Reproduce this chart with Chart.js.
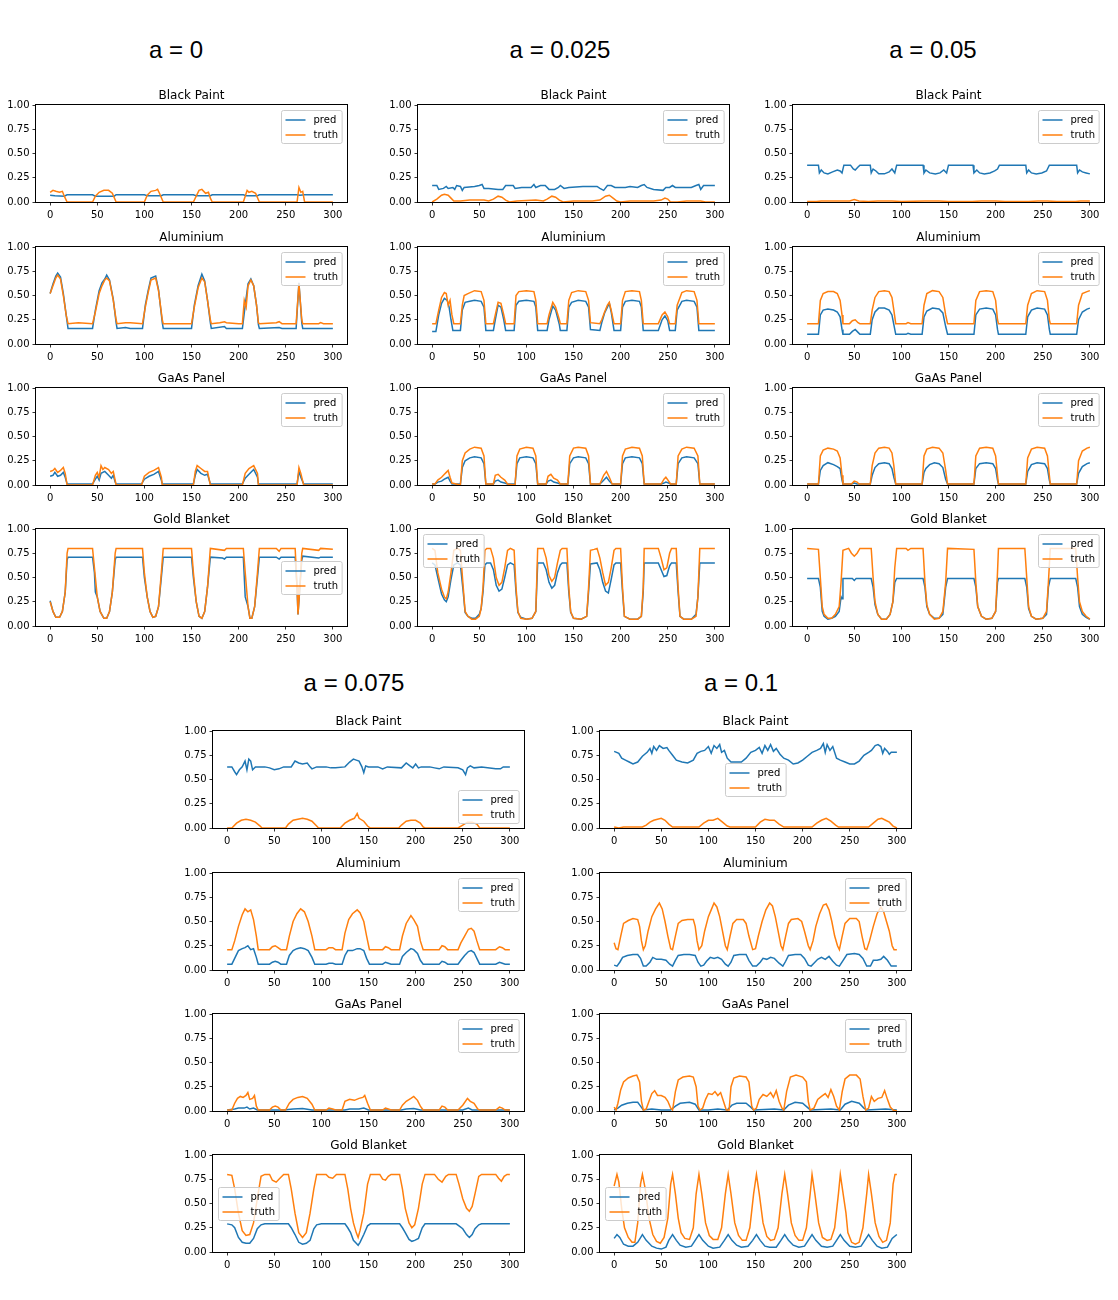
<!DOCTYPE html>
<html>
<head>
<meta charset="utf-8">
<script src="https://cdn.jsdelivr.net/npm/chart.js@4.4.1/dist/chart.umd.min.js"></script>
<style>
  body { margin: 0; background: #fff; }
  #wrap { position: relative; width: 1118px; height: 1300px; }
  canvas { position: absolute; }
  .group-title { position: absolute; font-family: "Liberation Sans", Arial, sans-serif; font-size: 24px; color: #000; transform: translate(-50%, -50%); white-space: nowrap; }
</style>
</head>
<body>
<div id="wrap"></div>
<script>
const groupTitles = ['a = 0', 'a = 0.025', 'a = 0.05', 'a = 0.075', 'a = 0.1'];
const panelTitles = ['Black Paint', 'Aluminium', 'GaAs Panel', 'Gold Blanket'];
const seriesNames = ['pred', 'truth'];
const xTicks = [0, 50, 100, 150, 200, 250, 300];
const yTicks = [0, 0.25, 0.5, 0.75, 1];

// a = 0
const a0BlackPred = [[0,.07],[5,.065],[15,.06],[18,.075],[45,.075],[48,.06],[68,.06],[70,.075],[100,.075],[103,.065],[118,.065],[120,.075],[152,.075],[155,.065],[170,.065],[172,.075],[205,.075],[208,.065],[220,.065],[222,.075],[262,.075],[265,.07],[270,.075],[300,.075]];
const a0BlackTruth = [[0,.10],[3,.12],[6,.11],[10,.10],[13,.11],[15,.06],[18,0],[45,0],[48,.06],[52,.10],[57,.12],[62,.12],[66,.09],[70,0],[100,0],[103,.07],[107,.11],[112,.12],[114,.13],[116,.09],[120,0],[152,0],[155,.06],[158,.12],[161,.13],[165,.09],[168,.10],[170,.04],[172,0],[205,0],[207,.06],[209,.12],[211,.10],[214,.11],[218,.09],[222,0],[262,0],[264,.15],[266,.10],[268,.11],[270,0],[300,0]];
const a0AluPred = [[0,.52],[3,.62],[6,.70],[8,.73],[11,.69],[14,.52],[17,.30],[19,.16],[45,.16],[48,.35],[52,.55],[55,.63],[58,.67],[60,.71],[63,.66],[67,.46],[70,.22],[71,.16],[80,.17],[85,.16],[98,.16],[101,.40],[104,.55],[107,.68],[112,.70],[115,.56],[119,.22],[120,.16],[150,.16],[153,.40],[157,.60],[161,.72],[164,.65],[167,.45],[170,.22],[171,.16],[185,.18],[187,.16],[204,.16],[207,.40],[210,.62],[213,.67],[216,.60],[219,.40],[221,.20],[222,.16],[243,.17],[246,.16],[261,.16],[264,.63],[267,.22],[268,.16],[300,.16]];
const a0AluTruth = [[0,.52],[3,.60],[6,.68],[8,.71],[11,.67],[14,.50],[17,.30],[19,.21],[30,.22],[45,.21],[48,.33],[52,.52],[55,.60],[58,.66],[60,.68],[63,.65],[67,.45],[70,.25],[71,.21],[80,.22],[85,.22],[98,.21],[101,.38],[104,.53],[107,.66],[112,.68],[115,.55],[119,.25],[120,.21],[150,.21],[153,.38],[157,.58],[161,.68],[164,.64],[167,.45],[170,.25],[171,.21],[180,.22],[185,.23],[187,.22],[200,.21],[204,.21],[206,.45],[208,.38],[210,.60],[213,.66],[216,.60],[219,.40],[221,.22],[222,.21],[240,.22],[243,.23],[246,.21],[261,.21],[264,.62],[267,.25],[268,.21],[285,.21],[287,.22],[290,.21],[300,.21]];
const a0GaasPred = [[0,.09],[3,.10],[5,.13],[8,.09],[11,.10],[14,.13],[16,.08],[18,.01],[45,.01],[48,.06],[50,.09],[52,.05],[54,.12],[58,.14],[62,.10],[65,.07],[67,.10],[69,.03],[70,.01],[97,.01],[100,.06],[105,.09],[110,.11],[115,.14],[118,.05],[119,.01],[152,.01],[154,.10],[156,.16],[160,.12],[164,.10],[167,.11],[170,.01],[204,.01],[207,.07],[211,.11],[216,.16],[220,.08],[221,.01],[262,.01],[264,.14],[266,.08],[269,.01],[300,.01]];
const a0GaasTruth = [[0,.14],[3,.15],[5,.17],[8,.13],[11,.15],[14,.18],[16,.12],[18,0],[45,0],[48,.10],[50,.13],[52,.08],[54,.20],[56,.16],[58,.18],[62,.16],[65,.12],[67,.14],[69,.05],[70,0],[97,0],[100,.09],[105,.13],[110,.15],[115,.18],[118,.08],[119,0],[152,0],[154,.14],[156,.20],[160,.17],[164,.14],[167,.14],[170,0],[204,0],[207,.12],[211,.17],[216,.20],[220,.12],[221,0],[262,0],[264,.18],[266,.12],[269,0],[300,0]];
const a0GoldPred = [[0,.26],[3,.15],[6,.09],[10,.09],[13,.15],[16,.35],[18,.68],[19,.71],[45,.71],[47,.55],[48,.35],[50,.30],[53,.15],[57,.08],[60,.08],[63,.15],[66,.35],[69,.68],[70,.71],[98,.71],[100,.50],[103,.30],[106,.15],[109,.09],[112,.10],[115,.20],[118,.50],[120,.71],[150,.71],[152,.50],[155,.25],[158,.10],[161,.08],[164,.15],[167,.40],[170,.71],[183,.70],[185,.69],[187,.71],[205,.71],[207,.30],[210,.20],[212,.08],[214,.08],[217,.20],[220,.50],[222,.71],[240,.71],[243,.69],[245,.71],[260,.71],[262,.40],[263,.12],[265,.40],[267,.68],[268,.72],[285,.70],[287,.71],[300,.71]];
const a0GoldTruth = [[0,.25],[3,.15],[6,.09],[10,.09],[13,.15],[16,.35],[18,.75],[19,.80],[45,.80],[47,.60],[50,.30],[53,.15],[57,.08],[60,.08],[63,.15],[66,.35],[69,.75],[70,.80],[98,.80],[100,.55],[103,.30],[106,.15],[109,.09],[112,.10],[115,.20],[118,.55],[120,.80],[150,.80],[152,.55],[155,.25],[158,.10],[161,.08],[164,.15],[167,.40],[170,.80],[185,.78],[187,.80],[205,.80],[207,.55],[210,.20],[212,.08],[214,.08],[217,.20],[220,.55],[222,.80],[240,.80],[243,.77],[245,.80],[260,.80],[262,.40],[263,.12],[265,.40],[267,.75],[268,.80],[285,.78],[287,.80],[300,.79]];

// a = 0.025
const a1BlackPred = [[0,.17],[5,.17],[7,.13],[12,.14],[15,.16],[17,.14],[22,.15],[24,.13],[26,.17],[30,.16],[32,.12],[34,.15],[45,.16],[50,.17],[53,.18],[55,.14],[60,.14],[70,.13],[75,.13],[78,.17],[86,.17],[88,.14],[95,.15],[105,.15],[108,.18],[110,.15],[115,.17],[120,.17],[124,.13],[130,.13],[134,.15],[136,.17],[140,.14],[145,.15],[160,.16],[175,.16],[178,.14],[182,.12],[186,.17],[190,.17],[194,.15],[205,.15],[210,.16],[218,.15],[222,.17],[225,.18],[228,.15],[235,.13],[245,.12],[248,.15],[252,.15],[255,.17],[258,.15],[275,.15],[280,.17],[283,.18],[285,.13],[288,.17],[300,.17]];
const a1BlackTruth = [[0,0],[5,.03],[10,.07],[13,.08],[17,.07],[20,.04],[23,.01],[30,.01],[40,.02],[55,.02],[60,.01],[65,.03],[70,.06],[74,.05],[78,.02],[82,0],[90,.01],[110,.02],[118,.01],[122,.03],[127,.06],[131,.05],[135,.02],[139,0],[150,.01],[170,.01],[178,.02],[184,.06],[188,.07],[192,.04],[196,.01],[200,0],[210,.01],[235,.01],[243,.02],[247,.04],[250,.03],[253,0],[260,0],[270,.01],[285,.01],[290,0],[300,0]];
const a1AluPred = [[0,.13],[4,.13],[7,.30],[10,.42],[13,.47],[16,.45],[18,.38],[20,.25],[22,.14],[30,.14],[32,.35],[35,.43],[40,.44],[45,.45],[52,.44],[55,.38],[57,.14],[65,.14],[67,.25],[70,.40],[73,.38],[76,.25],[78,.14],[87,.14],[89,.40],[92,.44],[100,.45],[108,.44],[110,.38],[112,.14],[122,.14],[124,.25],[128,.39],[131,.35],[135,.20],[136,.14],[143,.14],[145,.38],[148,.43],[155,.45],[163,.44],[166,.38],[168,.15],[178,.14],[180,.22],[183,.32],[186,.38],[188,.42],[190,.33],[193,.14],[200,.14],[202,.38],[205,.44],[212,.45],[220,.44],[222,.38],[224,.14],[240,.14],[244,.25],[247,.29],[250,.24],[252,.14],[258,.14],[260,.35],[265,.44],[270,.45],[278,.44],[281,.38],[283,.14],[300,.14]];
const a1AluTruth = [[0,.21],[4,.21],[7,.35],[10,.48],[13,.53],[15,.52],[17,.40],[19,.45],[21,.30],[23,.21],[30,.21],[32,.40],[34,.50],[38,.52],[45,.55],[52,.54],[55,.45],[57,.21],[65,.21],[67,.30],[70,.43],[73,.42],[76,.30],[78,.21],[87,.21],[89,.50],[92,.54],[100,.55],[108,.54],[110,.45],[112,.21],[122,.21],[124,.30],[128,.43],[131,.38],[135,.25],[136,.21],[143,.21],[145,.45],[148,.53],[155,.55],[163,.54],[166,.45],[168,.22],[178,.21],[180,.25],[183,.33],[186,.40],[188,.43],[190,.35],[193,.21],[200,.21],[202,.45],[205,.54],[212,.55],[220,.54],[222,.45],[224,.21],[240,.21],[244,.30],[247,.33],[250,.28],[252,.21],[258,.21],[260,.40],[265,.53],[270,.55],[278,.54],[281,.45],[283,.21],[300,.21]];
const a1GaasPred = [[0,.01],[3,.01],[6,.03],[10,.04],[13,.06],[15,.07],[17,.08],[19,.04],[21,.01],[30,.01],[32,.18],[35,.25],[40,.28],[45,.29],[52,.28],[55,.22],[57,.01],[65,.01],[67,.04],[70,.05],[73,.03],[77,.02],[80,.01],[88,.01],[90,.22],[93,.28],[100,.29],[107,.28],[110,.22],[112,.01],[121,.01],[123,.04],[126,.05],[129,.03],[133,.02],[136,.01],[144,.01],[146,.22],[150,.28],[155,.29],[163,.28],[166,.22],[168,.01],[178,.01],[182,.05],[185,.08],[188,.04],[191,.01],[200,.01],[202,.22],[205,.28],[212,.29],[220,.28],[223,.22],[225,.01],[243,.01],[246,.02],[248,.03],[251,.02],[253,.01],[259,.01],[261,.22],[265,.28],[270,.29],[278,.28],[282,.22],[284,.01],[300,.01]];
const a1GaasTruth = [[0,.01],[3,.01],[6,.05],[10,.08],[13,.11],[15,.13],[17,.15],[19,.08],[21,.02],[30,0],[32,.25],[35,.33],[40,.37],[45,.39],[52,.38],[55,.30],[57,.01],[65,.01],[67,.10],[70,.11],[73,.08],[77,.05],[80,.01],[88,0],[90,.30],[93,.37],[100,.39],[107,.38],[110,.30],[112,.01],[121,.01],[123,.09],[126,.11],[129,.07],[133,.05],[136,.01],[144,.01],[146,.30],[150,.38],[155,.39],[163,.38],[166,.30],[168,.01],[178,.01],[182,.10],[185,.14],[188,.08],[191,.01],[200,.01],[202,.30],[205,.37],[212,.39],[220,.38],[223,.30],[225,.01],[243,.01],[246,.06],[248,.08],[251,.04],[253,.01],[259,.01],[261,.30],[265,.37],[270,.39],[278,.38],[282,.30],[284,.01],[300,.01]];
const a1GoldPred = [[0,.65],[3,.63],[6,.50],[10,.33],[13,.27],[15,.25],[17,.30],[20,.48],[23,.63],[27,.65],[30,.63],[33,.35],[35,.14],[38,.10],[42,.08],[46,.08],[50,.12],[52,.18],[54,.35],[56,.63],[58,.65],[62,.65],[65,.58],[68,.42],[71,.36],[74,.38],[77,.50],[80,.63],[83,.65],[87,.63],[89,.35],[91,.14],[94,.09],[100,.07],[106,.08],[110,.15],[112,.65],[118,.65],[121,.58],[124,.45],[127,.39],[130,.42],[133,.55],[136,.63],[138,.65],[143,.65],[145,.35],[147,.14],[150,.08],[158,.07],[164,.10],[166,.35],[168,.64],[175,.65],[178,.58],[181,.45],[184,.36],[187,.34],[190,.48],[193,.63],[195,.65],[200,.65],[202,.35],[204,.10],[210,.07],[218,.07],[222,.10],[224,.35],[225,.65],[240,.65],[243,.58],[246,.51],[249,.52],[252,.62],[254,.65],[259,.65],[261,.35],[263,.10],[267,.07],[275,.07],[280,.12],[282,.30],[284,.65],[300,.65]];
const a1GoldTruth = [[0,.80],[3,.78],[6,.55],[10,.38],[13,.30],[15,.28],[17,.35],[20,.55],[23,.78],[27,.80],[30,.78],[33,.40],[35,.15],[38,.10],[42,.07],[46,.07],[50,.10],[52,.18],[54,.40],[56,.78],[58,.80],[62,.80],[65,.70],[68,.50],[71,.42],[74,.45],[77,.60],[80,.78],[83,.80],[87,.78],[89,.40],[91,.15],[94,.08],[100,.07],[106,.08],[110,.15],[112,.80],[118,.80],[121,.70],[124,.52],[127,.46],[130,.50],[133,.65],[136,.78],[138,.80],[143,.80],[145,.40],[147,.15],[150,.08],[158,.07],[164,.10],[166,.40],[168,.78],[172,.79],[175,.80],[178,.70],[181,.55],[184,.42],[187,.45],[190,.60],[193,.78],[195,.80],[200,.80],[202,.40],[204,.10],[210,.07],[218,.07],[222,.10],[224,.40],[225,.80],[240,.80],[243,.70],[246,.58],[249,.60],[252,.75],[254,.80],[259,.80],[261,.40],[263,.10],[267,.07],[275,.07],[280,.10],[282,.30],[284,.80],[300,.80]];

// a = 0.05
const a2BlackPred = [[0,.38],[12,.38],[13,.30],[15,.33],[18,.30],[22,.29],[27,.31],[32,.33],[35,.32],[37,.30],[39,.38],[46,.38],[49,.34],[51,.33],[54,.36],[56,.38],[67,.38],[68,.30],[70,.34],[73,.32],[76,.29],[82,.29],[87,.31],[90,.34],[93,.30],[95,.38],[123,.38],[124,.30],[126,.33],[130,.30],[136,.29],[141,.30],[145,.33],[148,.30],[150,.38],[176,.38],[177,.30],[180,.33],[183,.30],[188,.29],[194,.30],[199,.32],[202,.34],[204,.38],[232,.38],[233,.30],[235,.33],[238,.30],[243,.29],[249,.30],[254,.32],[257,.38],[286,.38],[287,.30],[289,.33],[292,.31],[296,.30],[300,.29]];
const a2BlackTruth = [[0,.005],[10,.005],[15,.01],[30,.01],[45,.01],[50,.025],[55,.01],[65,.005],[75,.01],[90,.01],[100,.005],[125,.01],[140,.01],[150,.005],[175,.005],[185,.01],[200,.01],[210,.005],[235,.005],[245,.01],[255,.01],[265,.005],[285,.005],[290,.01],[300,.01]];
const a2AluPred = [[0,.10],[12,.10],[14,.30],[17,.35],[22,.36],[28,.35],[32,.33],[35,.28],[37,.15],[38,.10],[45,.10],[48,.13],[51,.15],[54,.12],[56,.10],[67,.10],[69,.25],[72,.33],[76,.37],[82,.37],[87,.35],[90,.30],[92,.20],[94,.10],[105,.10],[107,.11],[110,.10],[122,.10],[124,.28],[127,.34],[133,.37],[140,.36],[144,.32],[147,.18],[149,.10],[177,.10],[179,.30],[183,.36],[190,.37],[197,.36],[200,.30],[202,.15],[203,.10],[232,.10],[234,.28],[238,.35],[244,.37],[252,.36],[255,.30],[257,.15],[258,.10],[286,.10],[288,.25],[292,.33],[297,.36],[300,.37]];
const a2AluTruth = [[0,.21],[12,.21],[14,.45],[17,.52],[22,.54],[28,.54],[32,.52],[35,.45],[37,.30],[38,.21],[45,.21],[48,.24],[51,.25],[54,.22],[56,.21],[67,.21],[69,.35],[72,.48],[76,.54],[82,.55],[87,.54],[90,.48],[92,.35],[94,.21],[105,.21],[107,.22],[110,.21],[122,.21],[124,.40],[127,.52],[133,.55],[140,.54],[144,.48],[147,.30],[149,.21],[177,.21],[179,.45],[183,.54],[190,.55],[197,.54],[200,.45],[202,.25],[203,.21],[232,.21],[234,.40],[238,.52],[244,.55],[252,.54],[255,.45],[257,.25],[258,.21],[286,.21],[288,.40],[292,.52],[297,.54],[300,.55]];
const a2GaasPred = [[0,.01],[12,.01],[14,.15],[17,.20],[22,.23],[28,.21],[32,.19],[35,.17],[37,.05],[38,.01],[47,.01],[50,.02],[53,.01],[67,.01],[69,.10],[72,.18],[76,.22],[82,.23],[87,.22],[90,.17],[92,.08],[94,.01],[122,.01],[124,.13],[126,.17],[130,.21],[135,.23],[140,.22],[144,.18],[147,.06],[149,.01],[177,.01],[179,.17],[183,.22],[190,.23],[197,.22],[200,.17],[202,.05],[203,.01],[232,.01],[234,.14],[238,.21],[244,.23],[252,.22],[255,.17],[257,.05],[258,.01],[286,.01],[288,.12],[292,.19],[297,.22],[300,.23]];
const a2GaasTruth = [[0,.01],[12,.01],[14,.30],[17,.36],[22,.38],[28,.37],[32,.35],[35,.28],[37,.10],[38,.01],[47,.01],[50,.04],[53,.03],[55,.01],[67,.01],[69,.20],[72,.33],[76,.38],[82,.39],[87,.38],[90,.33],[92,.20],[94,.01],[122,.01],[124,.30],[127,.37],[133,.39],[140,.38],[144,.33],[147,.15],[149,.01],[177,.01],[179,.30],[183,.38],[190,.39],[197,.38],[200,.30],[202,.10],[203,.01],[232,.01],[234,.28],[238,.37],[244,.39],[252,.38],[255,.30],[257,.10],[258,.01],[286,.01],[288,.25],[292,.35],[297,.38],[300,.39]];
const a2GoldPred = [[0,.49],[12,.49],[14,.40],[16,.15],[18,.10],[22,.07],[26,.08],[30,.10],[34,.15],[36,.30],[37,.28],[38,.49],[48,.49],[50,.47],[52,.49],[68,.49],[70,.40],[72,.22],[75,.12],[79,.07],[84,.07],[88,.12],[91,.25],[93,.45],[95,.49],[123,.49],[125,.40],[127,.20],[130,.12],[135,.08],[140,.08],[144,.12],[147,.40],[149,.49],[177,.49],[179,.40],[181,.20],[185,.10],[190,.07],[196,.08],[200,.15],[202,.45],[203,.49],[231,.49],[233,.40],[235,.18],[238,.10],[243,.07],[250,.08],[254,.12],[256,.40],[258,.49],[285,.49],[287,.40],[289,.20],[292,.12],[296,.09],[300,.07]];
const a2GoldTruth = [[0,.80],[12,.79],[14,.50],[16,.20],[18,.12],[22,.08],[26,.08],[30,.12],[34,.20],[36,.45],[38,.78],[44,.80],[47,.75],[50,.72],[53,.75],[56,.80],[68,.80],[70,.50],[72,.25],[75,.12],[79,.07],[84,.07],[88,.12],[91,.25],[93,.60],[95,.80],[105,.80],[107,.78],[110,.80],[123,.80],[125,.45],[127,.22],[130,.12],[135,.07],[140,.08],[144,.15],[147,.45],[149,.80],[177,.79],[179,.45],[181,.20],[185,.10],[190,.07],[196,.08],[200,.15],[202,.55],[203,.80],[231,.80],[233,.50],[235,.20],[238,.10],[243,.07],[250,.08],[254,.15],[256,.45],[258,.80],[285,.80],[287,.50],[289,.25],[292,.15],[296,.10],[300,.07]];

// a = 0.075
const a3BlackPred = [[0,.63],[5,.63],[8,.58],[10,.55],[13,.60],[16,.63],[19,.69],[21,.60],[23,.71],[25,.69],[27,.60],[30,.63],[40,.63],[45,.62],[50,.60],[55,.61],[60,.63],[68,.63],[72,.69],[76,.67],[80,.66],[85,.67],[88,.63],[90,.61],[95,.63],[105,.63],[110,.62],[115,.62],[125,.63],[130,.68],[134,.71],[137,.70],[140,.69],[143,.63],[145,.57],[147,.64],[150,.63],[160,.63],[165,.61],[170,.63],[185,.62],[190,.67],[194,.64],[197,.62],[200,.66],[203,.62],[206,.63],[215,.63],[220,.62],[225,.61],[230,.63],[245,.62],[250,.60],[253,.55],[255,.62],[258,.64],[262,.62],[270,.63],[285,.61],[290,.61],[293,.63],[300,.63]];
const a3BlackTruth = [[0,0],[5,0],[10,.05],[15,.08],[20,.09],[25,.08],[30,.06],[35,.02],[37,0],[62,0],[65,.04],[70,.08],[75,.09],[80,.10],[85,.09],[90,.07],[95,.02],[97,0],[120,0],[125,.05],[130,.08],[135,.10],[138,.15],[140,.10],[145,.07],[149,.02],[152,0],[182,0],[185,.03],[190,.07],[195,.08],[200,.08],[205,.05],[208,.01],[210,0],[245,0],[250,.03],[255,.06],[260,.06],[265,.04],[268,0],[300,0]];
const a3AluPred = [[0,.06],[5,.06],[8,.12],[12,.20],[16,.22],[19,.23],[22,.25],[25,.21],[28,.22],[31,.13],[33,.06],[45,.06],[48,.08],[51,.09],[54,.08],[57,.06],[63,.06],[66,.15],[70,.20],[74,.22],[78,.23],[82,.22],[86,.20],[90,.13],[93,.06],[105,.06],[108,.07],[112,.07],[115,.06],[122,.06],[125,.15],[128,.20],[133,.20],[138,.22],[141,.22],[145,.20],[148,.12],[151,.06],[165,.06],[168,.08],[171,.07],[174,.06],[183,.06],[186,.14],[190,.18],[195,.22],[198,.21],[202,.17],[205,.10],[208,.06],[225,.06],[228,.09],[231,.08],[234,.06],[245,.06],[248,.10],[252,.15],[256,.19],[259,.20],[262,.18],[265,.12],[268,.06],[285,.06],[289,.08],[292,.07],[295,.06],[300,.06]];
const a3AluTruth = [[0,.21],[5,.21],[8,.30],[12,.45],[16,.57],[19,.63],[22,.60],[25,.62],[28,.52],[31,.35],[33,.21],[45,.21],[48,.24],[51,.25],[54,.23],[57,.21],[63,.21],[66,.35],[70,.50],[74,.58],[78,.63],[82,.60],[86,.50],[90,.35],[93,.21],[105,.21],[108,.23],[112,.23],[115,.21],[122,.21],[125,.38],[129,.52],[133,.58],[138,.62],[141,.59],[145,.50],[148,.35],[151,.21],[165,.21],[168,.24],[171,.23],[174,.21],[183,.21],[186,.35],[190,.48],[195,.56],[198,.52],[202,.45],[205,.30],[208,.21],[225,.21],[228,.25],[231,.24],[234,.21],[245,.21],[248,.28],[252,.35],[256,.42],[259,.43],[262,.40],[265,.30],[268,.21],[285,.21],[289,.24],[292,.23],[295,.21],[300,.21]];
const a3GaasPred = [[0,.01],[8,.02],[12,.03],[18,.03],[21,.04],[24,.02],[28,.03],[32,.01],[60,.01],[70,.02],[80,.025],[90,.01],[125,.01],[130,.02],[140,.02],[145,.03],[150,.01],[185,.01],[190,.02],[198,.025],[205,.01],[250,.01],[256,.03],[260,.01],[300,.01]];
const a3GaasTruth = [[0,.01],[5,.01],[8,.08],[11,.13],[14,.15],[17,.14],[20,.16],[22,.19],[24,.12],[27,.13],[29,.16],[31,.05],[33,.01],[45,.01],[48,.04],[51,.05],[54,.04],[57,.01],[62,.01],[66,.08],[70,.12],[75,.14],[80,.15],[85,.13],[90,.07],[93,.01],[105,.01],[108,.03],[112,.02],[115,.01],[122,.01],[125,.10],[130,.12],[135,.11],[140,.13],[144,.14],[146,.16],[149,.08],[152,.01],[165,.01],[168,.03],[171,.02],[174,.01],[183,.01],[186,.06],[190,.10],[195,.13],[198,.15],[202,.11],[205,.05],[208,.01],[225,.01],[228,.05],[231,.04],[234,.01],[245,.01],[250,.06],[255,.13],[258,.10],[262,.08],[266,.02],[268,.01],[285,.01],[289,.04],[292,.03],[295,.01],[300,.01]];
const a3GoldPred = [[0,.29],[5,.28],[8,.25],[12,.15],[16,.10],[20,.09],[24,.09],[28,.14],[32,.24],[36,.28],[40,.29],[65,.29],[68,.25],[72,.18],[76,.10],[80,.08],[84,.09],[88,.12],[92,.24],[95,.28],[100,.29],[125,.29],[128,.25],[131,.20],[134,.12],[137,.09],[139,.07],[141,.10],[145,.18],[149,.27],[152,.29],[183,.29],[186,.25],[189,.20],[193,.13],[196,.11],[199,.12],[203,.14],[207,.25],[210,.29],[243,.29],[246,.27],[250,.24],[254,.18],[257,.15],[260,.18],[263,.24],[267,.28],[270,.29],[300,.29]];
const a3GoldTruth = [[0,.80],[5,.79],[8,.65],[12,.40],[16,.22],[20,.17],[24,.18],[28,.30],[32,.55],[36,.78],[40,.80],[45,.80],[48,.74],[52,.72],[56,.76],[60,.80],[65,.80],[68,.65],[72,.40],[76,.20],[80,.15],[84,.20],[88,.40],[92,.65],[95,.80],[105,.80],[108,.77],[112,.76],[116,.80],[125,.80],[128,.65],[131,.45],[134,.30],[137,.20],[139,.15],[141,.22],[145,.40],[149,.70],[152,.80],[162,.80],[165,.75],[168,.74],[171,.78],[174,.80],[183,.80],[186,.65],[189,.45],[193,.30],[196,.25],[199,.28],[203,.45],[207,.70],[210,.80],[220,.80],[224,.75],[228,.72],[232,.78],[235,.80],[243,.80],[246,.70],[250,.55],[254,.45],[257,.42],[260,.47],[263,.60],[267,.78],[270,.80],[285,.80],[288,.76],[291,.73],[294,.78],[297,.80],[300,.80]];

// a = 0.1
const a4BlackPred = [[0,.79],[5,.77],[8,.72],[12,.70],[16,.68],[20,.66],[25,.68],[30,.74],[35,.78],[38,.82],[40,.77],[42,.84],[45,.80],[48,.85],[52,.82],[56,.83],[58,.80],[62,.75],[66,.70],[72,.68],[78,.67],[84,.70],[88,.77],[92,.79],[96,.80],[100,.84],[103,.77],[106,.85],[109,.82],[112,.86],[114,.78],[117,.80],[120,.72],[124,.68],[135,.68],[140,.72],[145,.78],[150,.80],[154,.83],[157,.77],[160,.85],[163,.80],[166,.86],[169,.79],[172,.82],[176,.76],[180,.72],[185,.70],[190,.66],[195,.67],[200,.70],[205,.74],[210,.78],[215,.80],[219,.82],[222,.87],[224,.78],[226,.86],[229,.80],[232,.84],[236,.72],[240,.70],[245,.68],[250,.66],[255,.66],[260,.69],[265,.75],[270,.78],[273,.80],[277,.85],[280,.86],[283,.84],[285,.77],[287,.82],[290,.79],[292,.76],[294,.78],[300,.78]];
const a4BlackTruth = [[0,.01],[5,0],[10,.01],[30,.01],[34,.03],[38,.06],[42,.08],[46,.09],[50,.10],[54,.08],[58,.04],[62,.01],[90,.01],[95,.05],[100,.08],[105,.08],[110,.10],[115,.06],[120,.02],[123,.01],[150,.01],[155,.06],[160,.09],[165,.08],[170,.08],[175,.04],[180,.01],[210,.01],[215,.05],[220,.08],[225,.10],[230,.07],[235,.03],[238,.01],[270,.01],[275,.05],[280,.09],[284,.10],[288,.08],[292,.06],[296,.02],[300,0]];
const a4AluPred = [[0,.05],[3,.04],[6,.08],[9,.13],[14,.15],[20,.16],[25,.16],[28,.12],[31,.04],[34,.04],[38,.08],[41,.13],[45,.11],[50,.11],[55,.10],[59,.06],[62,.04],[65,.10],[68,.15],[74,.16],[80,.16],[86,.15],[89,.08],[92,.04],[95,.05],[98,.09],[102,.13],[106,.12],[110,.13],[114,.11],[118,.06],[121,.04],[124,.08],[127,.15],[133,.16],[140,.16],[143,.10],[147,.04],[151,.04],[155,.08],[158,.12],[162,.11],[166,.13],[170,.12],[175,.07],[179,.04],[182,.09],[185,.15],[192,.16],[198,.16],[202,.12],[206,.05],[209,.04],[212,.07],[216,.11],[220,.13],[224,.11],[228,.14],[232,.09],[236,.05],[239,.04],[243,.10],[247,.16],[255,.17],[260,.16],[264,.12],[268,.04],[272,.04],[275,.10],[279,.10],[283,.11],[286,.14],[290,.10],[294,.04],[300,.04]];
const a4AluTruth = [[0,.28],[2,.22],[4,.21],[7,.35],[10,.48],[15,.51],[20,.53],[25,.52],[27,.45],[29,.30],[31,.21],[33,.25],[36,.40],[40,.55],[44,.63],[48,.69],[51,.63],[54,.50],[57,.35],[60,.22],[62,.21],[65,.35],[68,.48],[72,.51],[78,.52],[84,.52],[86,.45],[88,.30],[90,.21],[93,.25],[96,.40],[100,.55],[103,.62],[106,.69],[109,.65],[112,.55],[115,.40],[118,.25],[120,.21],[123,.35],[126,.48],[130,.52],[137,.52],[140,.48],[143,.35],[147,.21],[150,.22],[153,.35],[157,.50],[161,.62],[165,.69],[168,.66],[171,.55],[174,.40],[177,.25],[179,.21],[182,.35],[185,.48],[188,.52],[195,.53],[199,.50],[202,.40],[206,.25],[208,.21],[211,.30],[214,.45],[218,.58],[222,.67],[225,.68],[228,.62],[231,.50],[234,.35],[237,.25],[239,.21],[242,.35],[245,.48],[250,.53],[257,.53],[260,.50],[263,.35],[266,.22],[268,.21],[271,.30],[275,.45],[279,.58],[283,.65],[286,.60],[289,.50],[292,.40],[295,.25],[297,.21],[300,.21]];
const a4GaasPred = [[0,.01],[4,.03],[8,.06],[14,.08],[20,.09],[25,.09],[28,.05],[31,.01],[40,.02],[50,.01],[60,.01],[65,.05],[70,.08],[80,.09],[86,.07],[90,.01],[100,.01],[110,.02],[120,.01],[125,.06],[130,.08],[140,.08],[145,.04],[148,.01],[170,.02],[180,.01],[185,.06],[192,.09],[200,.08],[206,.03],[208,.01],[230,.02],[240,.01],[245,.07],[252,.10],[260,.08],[265,.03],[268,.01],[288,.02],[300,.01]];
const a4GaasTruth = [[0,.04],[2,.01],[4,.08],[7,.22],[10,.30],[15,.34],[20,.36],[24,.37],[27,.30],[29,.10],[31,.01],[34,.02],[37,.10],[40,.18],[43,.21],[46,.16],[50,.16],[54,.14],[57,.10],[60,.03],[62,.01],[65,.20],[68,.32],[73,.35],[80,.36],[84,.35],[87,.25],[89,.05],[91,.01],[94,.03],[97,.12],[100,.18],[104,.17],[107,.20],[110,.16],[113,.19],[116,.10],[119,.01],[122,.01],[124,.25],[127,.34],[133,.36],[140,.35],[143,.30],[146,.05],[148,.01],[151,.03],[154,.12],[158,.17],[162,.15],[166,.19],[169,.14],[172,.21],[175,.10],[178,.03],[180,.01],[183,.20],[187,.35],[193,.37],[200,.35],[204,.30],[206,.10],[208,.01],[212,.03],[216,.12],[220,.15],[224,.18],[227,.14],[230,.22],[233,.15],[236,.05],[239,.01],[242,.20],[245,.33],[250,.37],[257,.37],[261,.33],[264,.15],[267,.01],[270,.03],[273,.15],[276,.10],[280,.13],[284,.14],[287,.21],[290,.12],[293,.04],[296,.01],[300,0]];
const a4GoldPred = [[0,.14],[3,.18],[6,.15],[10,.08],[15,.06],[20,.06],[25,.10],[30,.18],[34,.12],[40,.06],[45,.04],[50,.03],[55,.05],[58,.12],[62,.18],[66,.12],[70,.07],[76,.05],[82,.06],[86,.12],[90,.18],[94,.12],[100,.06],[105,.04],[112,.05],[117,.12],[121,.18],[125,.12],[130,.07],[135,.05],[142,.06],[147,.12],[151,.18],[155,.12],[160,.06],[165,.05],[172,.05],[177,.12],[181,.18],[185,.12],[190,.07],[196,.05],[202,.06],[206,.12],[210,.18],[214,.12],[220,.06],[226,.05],[232,.06],[236,.12],[240,.18],[244,.12],[250,.06],[256,.05],[262,.06],[266,.12],[270,.18],[274,.12],[279,.06],[284,.04],[290,.05],[295,.14],[300,.18]];
const a4GoldTruth = [[0,.68],[3,.80],[5,.72],[8,.45],[11,.25],[15,.15],[19,.10],[22,.10],[25,.30],[28,.70],[30,.80],[33,.65],[37,.35],[41,.18],[45,.11],[49,.09],[53,.15],[57,.35],[60,.70],[62,.80],[65,.60],[68,.35],[71,.20],[75,.14],[80,.13],[84,.25],[87,.60],[90,.80],[93,.60],[97,.30],[101,.17],[105,.13],[110,.13],[114,.25],[118,.60],[121,.80],[124,.60],[128,.30],[132,.17],[136,.12],[140,.12],[144,.25],[148,.60],[151,.80],[154,.60],[158,.30],[162,.16],[166,.12],[170,.13],[174,.25],[178,.60],[181,.80],[184,.60],[188,.30],[192,.17],[196,.12],[200,.12],[204,.25],[208,.60],[210,.80],[213,.60],[217,.30],[221,.15],[226,.12],[230,.13],[234,.25],[238,.60],[240,.80],[243,.60],[246,.40],[248,.20],[252,.10],[256,.08],[260,.10],[264,.25],[268,.60],[270,.80],[273,.60],[277,.30],[281,.16],[285,.10],[289,.12],[293,.30],[296,.70],[298,.80],[300,.80]];

const groupSeries = [
  [[a0BlackPred, a0BlackTruth], [a0AluPred, a0AluTruth], [a0GaasPred, a0GaasTruth], [a0GoldPred, a0GoldTruth]],
  [[a1BlackPred, a1BlackTruth], [a1AluPred, a1AluTruth], [a1GaasPred, a1GaasTruth], [a1GoldPred, a1GoldTruth]],
  [[a2BlackPred, a2BlackTruth], [a2AluPred, a2AluTruth], [a2GaasPred, a2GaasTruth], [a2GoldPred, a2GoldTruth]],
  [[a3BlackPred, a3BlackTruth], [a3AluPred, a3AluTruth], [a3GaasPred, a3GaasTruth], [a3GoldPred, a3GoldTruth]],
  [[a4BlackPred, a4BlackTruth], [a4AluPred, a4AluTruth], [a4GaasPred, a4GaasTruth], [a4GoldPred, a4GoldTruth]]
];

// layout (pixels) and legend placement
const topRows = [105, 247, 388, 529];
const bottomRows = [731, 873, 1014, 1155];
const groupLayout = [
  { tx: 176, ty: 50, left: 36, rows: topRows, legends: ['ur', 'ur', 'ur', 'cr'] },
  { tx: 560, ty: 50, left: 418, rows: topRows, legends: ['ur', 'ur', 'ur', 'ul'] },
  { tx: 933, ty: 50, left: 793, rows: topRows, legends: ['ur', 'ur', 'ur', 'ur'] },
  { tx: 354, ty: 683, left: 213, rows: bottomRows, legends: ['lr', 'ur', 'ur', 'cl'] },
  { tx: 741, ty: 683, left: 600, rows: bottomRows, legends: ['c', 'ur', 'ur', 'cl'] }
];
const PW = 311, PH = 97, PAD_L = 36, PAD_T = 22, PAD_R = 24, PAD_B = 26;
const colors = ['#1f77b4', '#ff7f0e'];
const FONT = '"DejaVu Sans", sans-serif';

// frame, subplot title and in-axes legend, matplotlib style
const axesDecor = {
  id: 'axesDecor',
  afterDatasetsDraw(chart, args, opts) {
    const { ctx, chartArea: a } = chart;
    ctx.save();
    ctx.strokeStyle = '#000';
    ctx.lineWidth = 1;
    ctx.strokeRect(Math.round(a.left) - 0.5, Math.round(a.top) - 0.5, Math.round(a.right - a.left) + 1, Math.round(a.bottom - a.top) + 1);

    ctx.fillStyle = '#000';
    ctx.font = '12px ' + FONT;
    ctx.textAlign = 'center';
    ctx.textBaseline = 'alphabetic';
    ctx.fillText(opts.title, (a.left + a.right) / 2, a.top - 6);

    ctx.font = '10px ' + FONT;
    const textW = Math.max(...seriesNames.map(s => ctx.measureText(s).width));
    const w = 4 + 20 + 8 + textW + 4, h = 33, inset = 5;
    let x, y;
    const loc = opts.legend;
    if (loc.endsWith('r')) x = a.right - inset - w;
    else if (loc.endsWith('l')) x = a.left + inset;
    else x = (a.left + a.right - w) / 2;
    if (loc.startsWith('u')) y = a.top + inset;
    else if (loc.startsWith('l')) y = a.bottom - inset - h;
    else y = (a.top + a.bottom - h) / 2;
    x = Math.round(x) + 0.5; y = Math.round(y) + 0.5;

    ctx.beginPath();
    ctx.roundRect(x, y, w, h, 2);
    ctx.fillStyle = 'rgba(255,255,255,0.8)';
    ctx.fill();
    ctx.strokeStyle = '#cccccc';
    ctx.lineWidth = 1;
    ctx.stroke();

    ctx.textAlign = 'left';
    ctx.textBaseline = 'middle';
    seriesNames.forEach((name, i) => {
      const cy = y + 9.5 + i * 15;
      ctx.strokeStyle = colors[i];
      ctx.lineWidth = 1.5;
      ctx.beginPath();
      ctx.moveTo(x + 4, cy);
      ctx.lineTo(x + 24, cy);
      ctx.stroke();
      ctx.fillStyle = '#000';
      ctx.fillText(name, x + 32, cy);
    });
    ctx.restore();
  }
};

const wrap = document.getElementById('wrap');

groupLayout.forEach((g, gi) => {
  const t = document.createElement('div');
  t.className = 'group-title';
  t.style.left = g.tx + 'px';
  t.style.top = g.ty + 'px';
  t.textContent = groupTitles[gi];
  wrap.appendChild(t);

  g.rows.forEach((top, pi) => {
    const canvas = document.createElement('canvas');
    canvas.width = PAD_L + PW + PAD_R;
    canvas.height = PAD_T + PH + PAD_B;
    canvas.style.left = (g.left - PAD_L) + 'px';
    canvas.style.top = (top - PAD_T) + 'px';
    wrap.appendChild(canvas);

    const series = groupSeries[gi][pi];
    new Chart(canvas.getContext('2d'), {
      type: 'line',
      data: {
        datasets: series.map((pts, si) => ({
          label: seriesNames[si],
          data: pts.map(p => ({ x: p[0], y: p[1] })),
          borderColor: colors[si],
          borderWidth: 1.5,
          pointRadius: 0,
          tension: 0,
          fill: false,
          order: si === 0 ? 1 : 0
        }))
      },
      options: {
        responsive: false,
        animation: false,
        events: [],
        layout: { padding: { top: PAD_T, right: PAD_R, left: 0, bottom: 0 } },
        scales: {
          x: {
            type: 'linear',
            min: -15,
            max: 315,
            afterBuildTicks: s => { s.ticks = xTicks.map(v => ({ value: v })); },
            afterFit: s => { s.height = PAD_B; },
            grid: { display: true, drawOnChartArea: false, drawTicks: true, tickLength: 3.5, tickColor: '#000', tickWidth: 0.8 },
            border: { display: false },
            ticks: { autoSkip: false, maxRotation: 0, padding: 4, color: '#000', font: { family: FONT, size: 10 }, callback: v => String(v) }
          },
          y: {
            min: 0,
            max: 1,
            afterBuildTicks: s => { s.ticks = yTicks.map(v => ({ value: v })); },
            afterFit: s => { s.width = PAD_L; },
            grid: { display: true, drawOnChartArea: false, drawTicks: true, tickLength: 3.5, tickColor: '#000', tickWidth: 0.8 },
            border: { display: false },
            ticks: { autoSkip: false, padding: 3, color: '#000', font: { family: FONT, size: 10 }, callback: v => v.toFixed(2) }
          }
        },
        plugins: {
          legend: { display: false },
          tooltip: { enabled: false },
          axesDecor: { title: panelTitles[pi], legend: g.legends[pi] }
        }
      },
      plugins: [axesDecor]
    });
  });
});
</script>
</body>
</html>
